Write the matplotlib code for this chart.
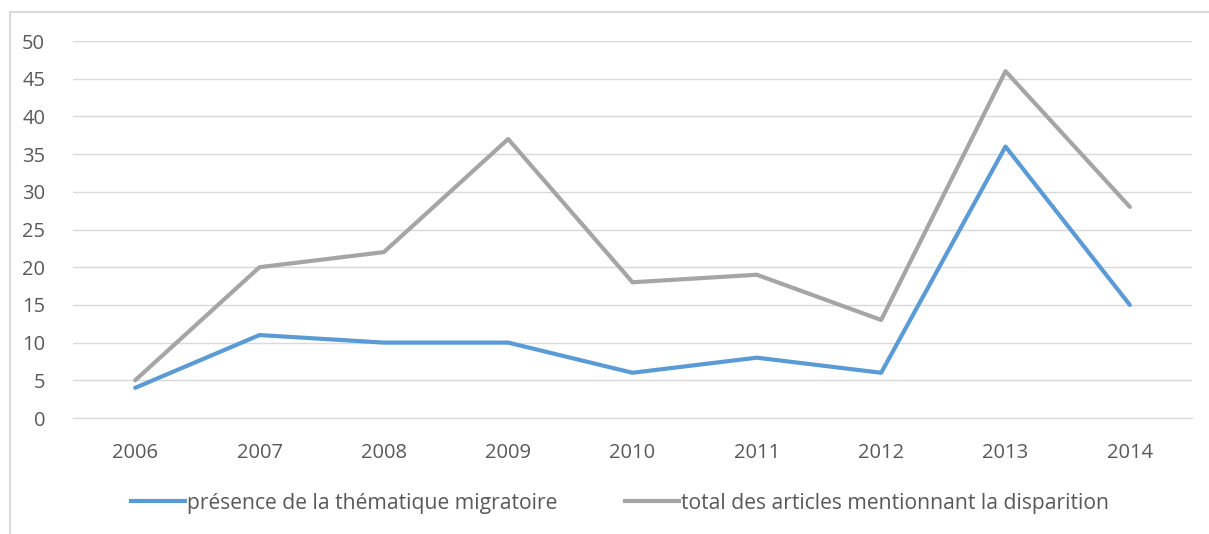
import matplotlib
matplotlib.use("Agg")
import matplotlib.pyplot as plt
from matplotlib.lines import Line2D

years = ["2006", "2007", "2008", "2009", "2010", "2011", "2012", "2013", "2014"]
migration = [4, 11, 10, 10, 6, 8, 6, 36, 15]
total = [5, 20, 22, 37, 18, 19, 13, 46, 28]
label_migration = "présence de la thématique migratoire"
label_total = "total des articles mentionnant la disparition"
yticks = [0, 5, 10, 15, 20, 25, 30, 35, 40, 45, 50]

plt.rcParams['font.family'] = ['Open Sans', 'DejaVu Sans']
W, H = 1209, 534
fig = plt.figure(figsize=(W / 100, H / 100), dpi=100)
ax = fig.add_axes([73 / W, 1 - 418 / H, (1192 - 73) / W, (418 - 41) / H])

x = list(range(len(years)))
ax.plot(x, migration, color="#5B9BD5", lw=3, solid_capstyle="round", solid_joinstyle="round", zorder=3)
ax.plot(x, total, color="#A5A5A5", lw=3, solid_capstyle="round", solid_joinstyle="round", zorder=3)

ax.set_xlim(-0.5, len(years) - 0.5)
ax.set_ylim(0, 50)
ax.set_yticks(yticks)
ax.set_xticks(x)
ax.set_xticklabels(years)
ax.yaxis.grid(True, color="#D9D9D9", lw=1)
ax.set_axisbelow(True)
for s in ax.spines.values():
    s.set_visible(False)
ax.spines['bottom'].set_visible(True)
ax.spines['bottom'].set_color("#D9D9D9")
ax.tick_params(length=0, labelsize=14.5, labelcolor="#595959")
ax.tick_params(axis='y', pad=20)
ax.tick_params(axis='x', pad=18)

handles = [Line2D([0], [0], color="#5B9BD5", lw=3), Line2D([0], [0], color="#A5A5A5", lw=3)]
leg = fig.legend(handles, [label_migration, label_total], loc="center", bbox_to_anchor=(620 / W, 1 - 503 / H),
                 ncol=2, frameon=False, fontsize=15.2, handlelength=2.55, handletextpad=0.12, columnspacing=3.2)
for t in leg.get_texts():
    t.set_color("#595959")

fig.add_artist(Line2D([10 / W, 1], [1 - 12 / H, 1 - 12 / H], color="#D9D9D9", lw=1.5, transform=fig.transFigure))
fig.add_artist(Line2D([10 / W, 10 / W], [0, 1 - 12 / H], color="#D9D9D9", lw=1.5, transform=fig.transFigure))

fig.savefig("out.png", dpi=100)
